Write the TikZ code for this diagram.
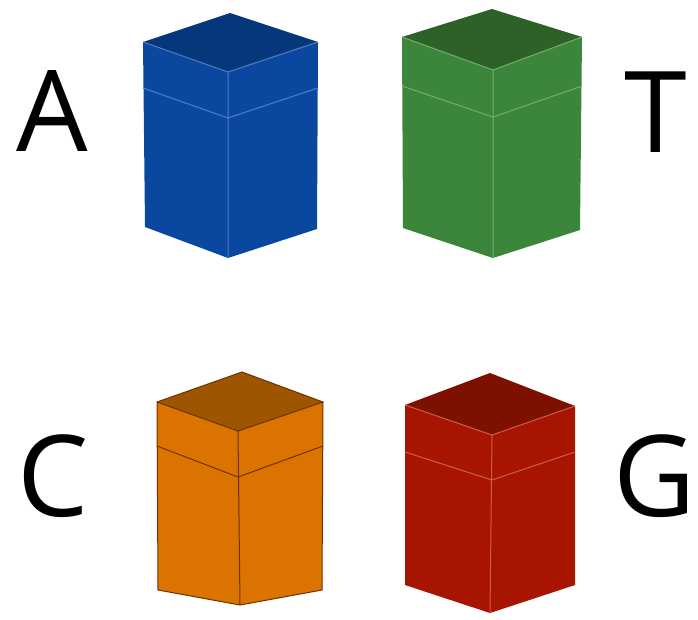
\documentclass[tikz,border=0pt]{standalone}
\usepackage{fontspec}
\setmainfont{Open Sans}
\definecolor{bluetop}{HTML}{05377A}
\definecolor{blueside}{HTML}{0A48A0}
\definecolor{blueline}{HTML}{4F7EC2}
\definecolor{greentop}{HTML}{2D6128}
\definecolor{greenside}{HTML}{3B863B}
\definecolor{greenline}{HTML}{73AE6E}
\definecolor{orangetop}{HTML}{9E5500}
\definecolor{orangeside}{HTML}{DA7300}
\definecolor{orangeline}{HTML}{6E3200}
\definecolor{redtop}{HTML}{7E1000}
\definecolor{redside}{HTML}{A71400}
\definecolor{redline}{HTML}{C8604E}
\tikzset{
  letter/.style={anchor=base, inner sep=0pt, font=\fontsize{113}{113}\selectfont},
  edge/.style={line width=1pt},
}
% draws a square prism from the named corner coordinates <p>-ap, -lt, -rt, -ft,
% -lb, -fb, -rb and the band points -bl, -bf, -br
\newcommand\prismbox[5]{%
  \fill[#3] (#1-lt) -- (#1-ft) -- (#1-fb) -- (#1-lb) -- cycle;
  \fill[#3] (#1-ft) -- (#1-rt) -- (#1-rb) -- (#1-fb) -- cycle;
  \fill[#2] (#1-ap) -- (#1-lt) -- (#1-ft) -- (#1-rt) -- cycle;
  \draw[edge, #4] (#1-lt) -- (#1-ft) -- (#1-rt) (#1-ft) -- (#1-fb)
    (#1-bl) -- (#1-bf) -- (#1-br);
  #5
}
\begin{document}
\begin{tikzpicture}[x=1pt, y=-1pt]
\useasboundingbox (0,0) rectangle (698,619);
% blue prism
\coordinate (a-ap) at (230,13);  \coordinate (a-lt) at (143,42);
\coordinate (a-rt) at (318,42);  \coordinate (a-ft) at (228,72);
\coordinate (a-lb) at (145,227); \coordinate (a-fb) at (228,258);
\coordinate (a-rb) at (317,229);
\coordinate (a-bl) at (143,88);  \coordinate (a-bf) at (228,118);
\coordinate (a-br) at (318,88);
% green prism
\coordinate (t-ap) at (492,9);   \coordinate (t-lt) at (402,37);
\coordinate (t-rt) at (582,37);  \coordinate (t-ft) at (493,70);
\coordinate (t-lb) at (403,228); \coordinate (t-fb) at (493,258);
\coordinate (t-rb) at (580,230);
\coordinate (t-bl) at (402,86);  \coordinate (t-bf) at (493,117);
\coordinate (t-br) at (582,86);
% orange prism
\coordinate (c-ap) at (242,372); \coordinate (c-lt) at (157,402);
\coordinate (c-rt) at (323,402); \coordinate (c-ft) at (238,431);
\coordinate (c-lb) at (158,590); \coordinate (c-fb) at (240,605);
\coordinate (c-rb) at (322,590);
\coordinate (c-bl) at (157,446); \coordinate (c-bf) at (238,477);
\coordinate (c-br) at (323,446);
% red prism
\coordinate (g-ap) at (490,373); \coordinate (g-lt) at (405,405);
\coordinate (g-rt) at (575,406); \coordinate (g-ft) at (492,435);
\coordinate (g-lb) at (405,585); \coordinate (g-fb) at (490,613);
\coordinate (g-rb) at (575,585);
\coordinate (g-bl) at (405,452); \coordinate (g-bf) at (492,480);
\coordinate (g-br) at (575,452);

\prismbox{a}{bluetop}{blueside}{blueline}{}
\prismbox{t}{greentop}{greenside}{greenline}{}
\prismbox{c}{orangetop}{orangeside}{orangeline}{%
  \draw[edge, orangeline] (c-ap) -- (c-lt) -- (c-lb) -- (c-fb) -- (c-rb) -- (c-rt) -- cycle;}
\prismbox{g}{redtop}{redside}{redline}{}

\node[letter] (la) at (52,151) {A};
\node[letter] (lt) at (656,152) {T};
\node[letter] (lc) at (53,516) {C};
\node[letter] (lg) at (655,516) {G};
\end{tikzpicture}
\end{document}
